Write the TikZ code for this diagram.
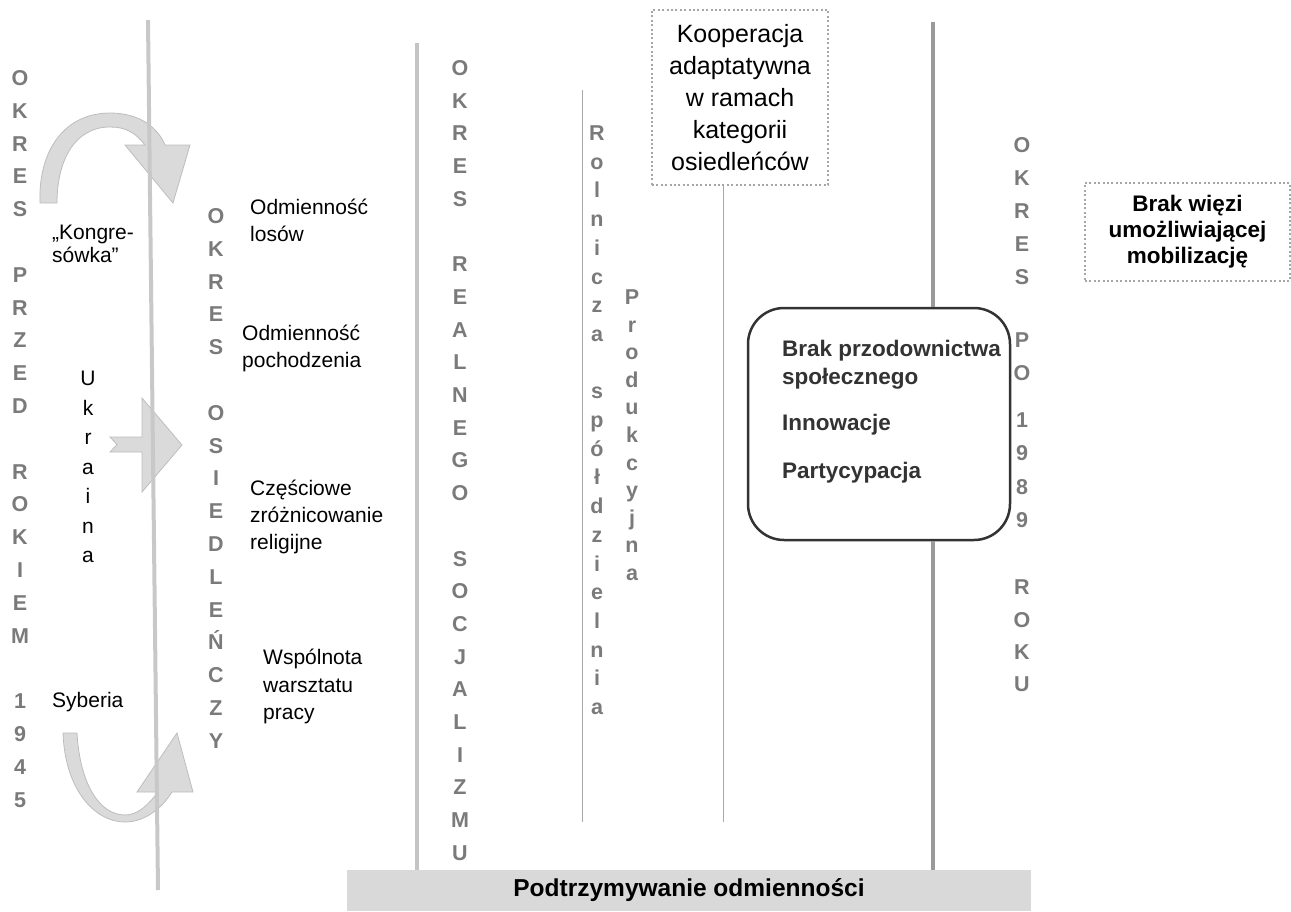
\documentclass[tikz,border=0pt]{standalone}
\usepackage{fontspec}
\setmainfont{Liberation Sans}
\definecolor{stkgray}{HTML}{7A7A7A}
\definecolor{lline}{HTML}{C8C8C8}
\definecolor{mline}{HTML}{C4C4C4}
\definecolor{rline}{HTML}{9A9A9A}
\definecolor{tline}{HTML}{A8A8A8}
\definecolor{arrfill}{HTML}{DADADA}
\definecolor{arrline}{HTML}{BDBDBD}
\definecolor{dotgray}{HTML}{A6A6A6}
\definecolor{boxline}{HTML}{333333}
\definecolor{boxtext}{HTML}{333333}
\definecolor{barfill}{HTML}{D9D9D9}
\begin{document}
\begin{tikzpicture}[x=1pt,y=-1pt,
  stk/.style={font=\fontsize{21.5}{24}\selectfont\bfseries, text=stkgray, anchor=base, inner sep=0pt},
  lbl/.style={font=\fontsize{21}{27}\selectfont, anchor=base west, inner sep=0pt},
  vlbl/.style={font=\fontsize{21}{27}\selectfont, anchor=base, inner sep=0pt},
  blbl/.style={font=\fontsize{22.5}{28}\selectfont\bfseries, text=boxtext, anchor=base west, inner sep=0pt},
  arrowshape/.style={fill=arrfill, draw=arrline, line width=0.8pt},
  dotbox/.style={draw=dotgray, line width=2pt, dash pattern=on 2pt off 2.4pt},
  leftline/.style={draw=lline, line width=4pt},
  midline/.style={draw=mline, line width=4pt},
  rightline/.style={draw=rline, line width=4pt},
  thinline/.style={draw=tline, line width=1pt}]
\useasboundingbox (0,0) rectangle (1291,911);

% ---- arrows
\path[arrowshape] (40,203) .. controls (38,150) and (65,113) .. (110,113)
  .. controls (140,113) and (158,128) .. (165,145) -- (190,145) -- (173,203) -- (125,145) -- (145,145)
  .. controls (135,132) and (125,127) .. (110,127)
  .. controls (75,127) and (57,160) .. (57,203) -- cycle;
\path[arrowshape] (110,437) -- (142,437) -- (142,398) -- (182,445) -- (142,492) -- (142,452) -- (110,452) -- (117,444.5) -- cycle;
\path[arrowshape] (63,733) .. controls (65,790) and (95,822) .. (125,822)
  .. controls (145,822) and (162,808) .. (172,792) -- (193,792) -- (177,733) -- (137,792) -- (158,792)
  .. controls (148,805) and (138,815) .. (125,815)
  .. controls (100,815) and (80,785) .. (77,733) -- cycle;

% ---- lines
\coordinate (l1t) at (148,20);
\coordinate (l1b) at (158,890);
\draw[leftline] (l1t) -- (l1b);

\node[fill=barfill, minimum width=684pt, minimum height=41pt, inner sep=0pt,
  font=\fontsize{24.5}{28}\selectfont\bfseries] (bar) at (689,890.5) {Podtrzymywanie odmienności};

\coordinate (l2t) at (417,43);
\draw[midline] (l2t) -- (l2t |- bar.north);

\coordinate (t1t) at (582,90);
\coordinate (t1b) at (582,822);
\draw[thinline] (t1t) -- (t1b);

\node[dotbox, minimum width=176pt, minimum height=175pt, inner sep=0pt, align=center,
  font=\fontsize{25}{32}\selectfont] (koop) at (740,97.5)
  {Kooperacja\\adaptatywna\\w ramach\\kategorii\\osiedleńców};
\coordinate (t2b) at (723,822);
\draw[thinline] (t2b |- koop.south) -- (t2b);

\node[dotbox, minimum width=205pt, minimum height=98pt, inner sep=0pt, align=center,
  font=\fontsize{22.5}{26}\selectfont\bfseries] (brak) at (1187.5,232)
  {Brak więzi\\umożliwiającej\\mobilizację};

\node[draw=boxline, line width=2.5pt, rounded corners=36pt, minimum width=262pt, minimum height=232pt, inner sep=0pt] (rbox) at (879,424) {};
\node[blbl] (r1) at (782,356) {Brak przodownictwa};
\node[blbl] (r2) at (782,384) {społecznego};
\node[blbl] (r3) at (782,430) {Innowacje};
\node[blbl] (r4) at (782,478) {Partycypacja};

\coordinate (rt) at (933,22);
\draw[rightline] (rt) -- (rt |- rbox.north);
\draw[rightline] (rt |- rbox.south) -- (rt |- bar.north);

% ---- vertical letter stacks
\foreach \ch [count=\i from 0] in {O,K,R,E,S,{},P,R,Z,E,D,{},R,O,K,I,E,M,{},1,9,4,5}
  \node[stk] (a\i) at (20,{85.5+32.8*\i}) {\ch};
\foreach \ch [count=\i from 0] in {O,K,R,E,S,{},O,S,I,E,D,L,E,Ń,C,Z,Y}
  \node[stk] (b\i) at (216,{223.5+32.8*\i}) {\ch};
\foreach \ch [count=\i from 0] in {O,K,R,E,S,{},R,E,A,L,N,E,G,O,{},S,O,C,J,A,L,I,Z,M,U}
  \node[stk] (c\i) at (460,{75.5+32.7*\i}) {\ch};
\foreach \ch [count=\i from 0] in {R,o,l,n,i,c,z,a,{},s,p,ó,ł,d,z,i,e,l,n,i,a}
  \node[stk] (d\i) at (597,{140.5+28.7*\i}) {\ch};
\foreach \ch [count=\i from 0] in {P,r,o,d,u,k,c,y,j,n,a}
  \node[stk] (e\i) at (632,{304.5+27.6*\i}) {\ch};
\foreach \ch/\yy [count=\i from 0] in {O/145,K/178,R/211,E/244,S/277,P/340,O/373,1/420,9/453,8/487,9/520,R/587,O/620,K/652,U/684}
  \node[stk] (f\i) at (1022,{\yy+7.5}) {\ch};
\foreach \ch [count=\i from 0] in {U,k,r,a,i,n,a}
  \node[vlbl] (u\i) at (88,{385.5+29.5*\i}) {\ch};

% ---- labels
\node[lbl] (k1) at (52,239) {„Kongre-};
\node[lbl] (k2) at (52,262) {sówka”};
\node[lbl] (s1) at (52,707) {Syberia};
\node[lbl] (o1) at (250,214) {Odmienność};
\node[lbl] (o2) at (250,241) {losów};
\node[lbl] (p1) at (242,340) {Odmienność};
\node[lbl] (p2) at (242,367) {pochodzenia};
\node[lbl] (c1) at (250,495) {Częściowe};
\node[lbl] (c2) at (250,522) {zróżnicowanie};
\node[lbl] (c3) at (250,549) {religijne};
\node[lbl] (w1) at (263,664) {Wspólnota};
\node[lbl] (w2) at (263,692) {warsztatu};
\node[lbl] (w3) at (263,719) {pracy};
\end{tikzpicture}
\end{document}
